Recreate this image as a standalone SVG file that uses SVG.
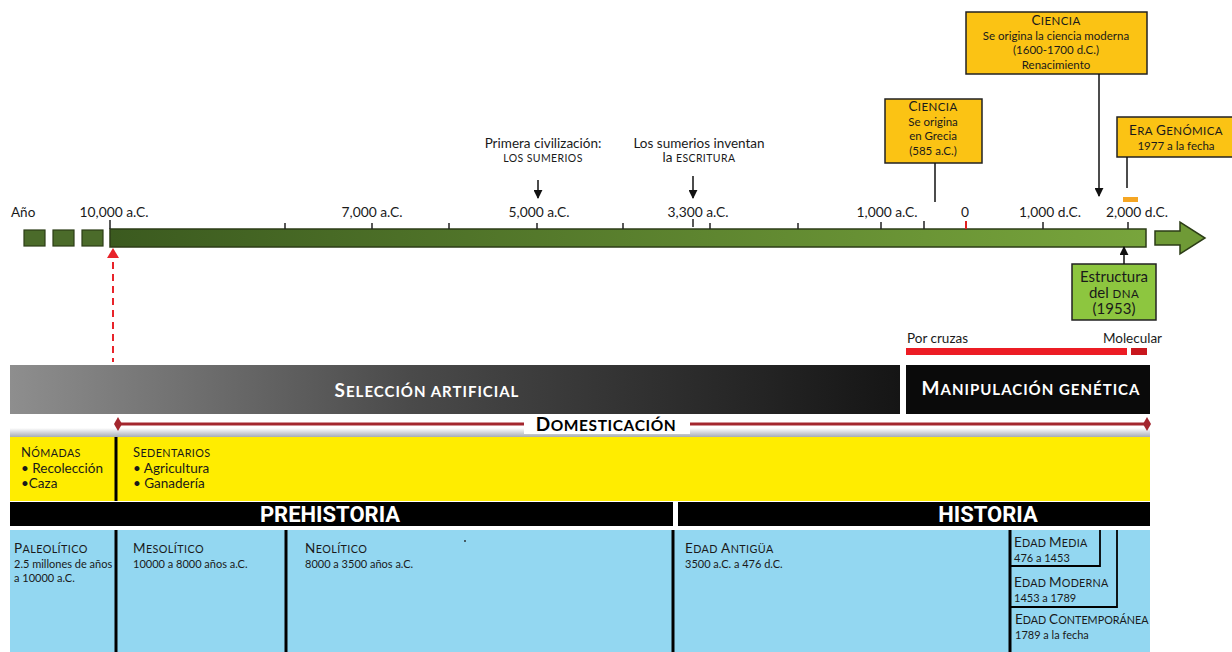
<svg xmlns="http://www.w3.org/2000/svg" width="1232" height="652" viewBox="0 0 1232 652">
  <style>
    text { font-family: Lato, "Open Sans", "DejaVu Sans", sans-serif; fill: #1a1a1a; }
    .yr { font-size: 13.8px; text-anchor: middle; }
    .note { font-size: 13.5px; text-anchor: middle; }
    .scs { font-size: 10.5px; letter-spacing: 0.4px; }
    .cap { font-size: 13.5px; }
    .box { fill: #fbc314; stroke: #222; stroke-width: 1.5; }
    .boxt { font-size: 11.5px; text-anchor: middle; }
    .tick { stroke: #222; stroke-width: 1.5; }
    .lbl { font-size: 13.5px; }
    .per { font-size: 10.8px; letter-spacing: 0.4px; }
    .pers { font-size: 11px; }
    .vline { stroke: #000; stroke-width: 3; }
    .band { font-weight: bold; font-size: 15px; letter-spacing: 1px; }
    .bcap { font-size: 19px; }
    .bar-title { font-family: Roboto, "Liberation Sans", sans-serif; font-weight: bold; font-size: 22px; fill: #fff; text-anchor: middle; }
  </style>
  <defs>
    <linearGradient id="gBar" x1="0" x2="1" y1="0" y2="0">
      <stop offset="0" stop-color="#3b5a1f"/>
      <stop offset="1" stop-color="#78a53c"/>
    </linearGradient>
    <linearGradient id="gSel" x1="0" x2="1" y1="0" y2="0">
      <stop offset="0" stop-color="#8e8e8e"/>
      <stop offset="0.45" stop-color="#4a4a4a"/>
      <stop offset="1" stop-color="#151515"/>
    </linearGradient>
    <linearGradient id="gShade" x1="0" x2="0" y1="0" y2="1">
      <stop offset="0" stop-color="#ffffff"/>
      <stop offset="1" stop-color="#9ea4ab"/>
    </linearGradient>
    <marker id="arr" viewBox="0 0 10 10" refX="9" refY="5" markerWidth="6" markerHeight="6" orient="auto-start-reverse">
      <path d="M0,0 L10,5 L0,10 z" fill="#111"/>
    </marker>
  </defs>

  <!-- timeline -->
  <g id="timeline">
    <text x="11" y="217" class="lbl">Año</text>
    <rect x="24" y="230" width="21" height="16" fill="#4b6b2a" stroke="#2c3d17" stroke-width="1.2"/>
    <rect x="53" y="230" width="21" height="16" fill="#4b6b2a" stroke="#2c3d17" stroke-width="1.2"/>
    <rect x="82" y="230" width="21" height="16" fill="#4b6b2a" stroke="#2c3d17" stroke-width="1.2"/>
    <rect x="110" y="229" width="1036" height="18" fill="url(#gBar)" stroke="#2c3d17" stroke-width="1.5"/>
    <path d="M1155,231 L1180,231 L1180,222 L1205,238 L1180,254 L1180,245 L1155,245 z" fill="#6f9a36" stroke="#2c3d17" stroke-width="1.5"/>
    <g class="tick">
      <line x1="110" y1="220" x2="110" y2="229"/>
      <line x1="285" y1="223" x2="285" y2="229"/>
      <line x1="372" y1="223" x2="372" y2="229"/>
      <line x1="449" y1="223" x2="449" y2="229"/>
      <line x1="537" y1="223" x2="537" y2="229"/>
      <line x1="623" y1="223" x2="623" y2="229"/>
      <line x1="710" y1="223" x2="710" y2="229"/>
      <line x1="798" y1="223" x2="798" y2="229"/>
      <line x1="881" y1="222" x2="881" y2="229"/>
      <line x1="924" y1="221" x2="924" y2="229"/>
      <line x1="1043" y1="222" x2="1043" y2="229"/>
      <line x1="1128" y1="222" x2="1128" y2="229"/>
    </g>
    <line x1="966" y1="221" x2="966" y2="229" stroke="#e02020" stroke-width="2"/>
    <text x="114" y="217" class="yr">10,000 a.C.</text>
    <text x="372" y="217" class="yr">7,000 a.C.</text>
    <text x="539" y="217" class="yr">5,000 a.C.</text>
    <text x="698" y="217" class="yr">3,300 a.C.</text>
    <text x="887" y="217" class="yr">1,000 a.C.</text>
    <text x="965" y="217" class="yr">0</text>
    <text x="1050" y="217" class="yr">1,000 d.C.</text>
    <text x="1137" y="217" class="yr">2,000 d.C.</text>
    <line x1="693" y1="219" x2="693" y2="227" stroke="#222" stroke-width="1.5"/>
    <rect x="1123" y="197" width="15" height="5" fill="#f5a623"/>
  </g>

  <!-- annotations above the timeline -->
  <g id="sumerios">
    <text x="543" y="148" class="note">Primera civilización:</text>
    <text x="543" y="162" class="note scs">LOS SUMERIOS</text>
  </g>
  <g id="escritura">
    <text x="699" y="148" class="note">Los sumerios inventan</text>
    <text x="699" y="162" class="note">la <tspan class="scs">ESCRITURA</tspan></text>
  </g>
  <g id="ciencia-grecia">
    <rect x="885" y="99" width="97" height="64" class="box"/>
    <text x="933" y="111" class="boxt scs"><tspan class="cap">C</tspan>IENCIA</text>
    <text x="933" y="126" class="boxt">Se origina</text>
    <text x="933" y="140" class="boxt">en Grecia</text>
    <text x="933" y="155" class="boxt">(585 a.C.)</text>
  </g>
  <g id="ciencia-moderna">
    <rect x="966" y="12" width="181" height="62" class="box"/>
    <text x="1056" y="25" class="boxt scs"><tspan class="cap">C</tspan>IENCIA</text>
    <text x="1056" y="40" class="boxt">Se origina la ciencia moderna</text>
    <text x="1056" y="54" class="boxt">(1600-1700 d.C.)</text>
    <text x="1056" y="69" class="boxt">Renacimiento</text>
  </g>
  <g id="era-genomica">
    <rect x="1117" y="117" width="120" height="40" class="box"/>
    <text x="1176" y="135" class="boxt scs"><tspan class="cap">E</tspan>RA <tspan class="cap">G</tspan>ENÓMICA</text>
    <text x="1176" y="150" class="boxt">1977 a la fecha</text>
  </g>
  <g id="dna">
    <rect x="1072" y="264" width="84" height="56" fill="#8dc63f" stroke="#222" stroke-width="1.5"/>
    <text x="1114" y="282" class="note" style="font-size:15px">Estructura</text>
    <text x="1114" y="298" class="note" style="font-size:15px">del <tspan class="scs" style="font-size:11.5px">DNA</tspan></text>
    <text x="1114" y="314" class="note" style="font-size:15px">(1953)</text>
  </g>

  <!-- connectors -->
  <g id="connectors" fill="none">
    <line x1="538" y1="180" x2="538" y2="198" stroke="#111" stroke-width="1.5" marker-end="url(#arr)"/>
    <line x1="693" y1="176" x2="693" y2="198" stroke="#111" stroke-width="1.5" marker-end="url(#arr)"/>
    <line x1="935" y1="163" x2="935" y2="202" stroke="#111" stroke-width="1.5"/>
    <line x1="1099" y1="74" x2="1099" y2="196" stroke="#111" stroke-width="1.5" marker-end="url(#arr)"/>
    <line x1="1127" y1="157" x2="1127" y2="188" stroke="#111" stroke-width="1.5"/>
    <line x1="1124" y1="264" x2="1124" y2="247" stroke="#111" stroke-width="1.5" marker-end="url(#arr)"/>
    <line x1="113" y1="262" x2="113" y2="362" stroke="#e8232a" stroke-width="2" stroke-dasharray="7,5"/>
    <path d="M113,248 L119,258 L107,258 z" fill="#e8232a"/>
  </g>

  <!-- genetic technique bars -->
  <g id="tecnicas">
    <text x="907" y="343" class="lbl">Por cruzas</text>
    <text x="1162" y="343" class="lbl" text-anchor="end">Molecular</text>
    <rect x="906" y="348" width="221" height="7" fill="#ec1c24"/>
    <rect x="1131" y="348" width="16" height="7" fill="#c8161d"/>
  </g>

  <g id="seleccion">
    <rect x="10" y="365" width="890" height="49" fill="url(#gSel)"/>
    <text x="427" y="397" class="band" text-anchor="middle" style="fill:#fff"><tspan class="bcap">S</tspan>ELECCIÓN ARTIFICIAL</text>
  </g>
  <g id="manipulacion">
    <rect x="906" y="365" width="244" height="49" fill="#0a0a0a"/>
    <text x="1031" y="395" class="band" text-anchor="middle" style="fill:#fff"><tspan class="bcap">M</tspan>ANIPULACIÓN GENÉTICA</text>
  </g>

  <!-- domestication span -->
  <g id="domesticacion">
    <rect x="10" y="428" width="1140" height="10" fill="url(#gShade)"/>
    <line x1="118" y1="424" x2="1147" y2="424" stroke="#a3262e" stroke-width="3"/>
    <path d="M114,424 L118,417 L122,424 L118,431 z" fill="#a3262e"/>
    <path d="M1143,424 L1147,417 L1151,424 L1147,431 z" fill="#a3262e"/>
    <rect x="524" y="414" width="166" height="20" fill="#fff"/>
    <text x="606" y="431" class="band" text-anchor="middle" style="font-size:15.5px;letter-spacing:0.6px;fill:#000"><tspan class="bcap">D</tspan>OMESTICACIÓN</text>
  </g>

  <!-- ways of life -->
  <g id="modos-vida">
    <rect x="10" y="437" width="1140" height="64" fill="#ffed00"/>
    <line x1="116" y1="437" x2="116" y2="501" class="vline"/>
    <text x="21" y="457" class="per"><tspan class="cap" style="font-size:13px">N</tspan>ÓMADAS</text>
    <text x="21" y="472.5" class="lbl">• Recolección</text>
    <text x="21" y="487.5" class="lbl">•Caza</text>
    <text x="133" y="457" class="per"><tspan class="cap" style="font-size:13px">S</tspan>EDENTARIOS</text>
    <text x="133" y="472.5" class="lbl">• Agricultura</text>
    <text x="133" y="487.5" class="lbl">• Ganadería</text>
  </g>

  <g id="eras">
    <rect x="10" y="502" width="663" height="24" fill="#000"/>
    <rect x="678" y="502" width="472" height="24" fill="#000"/>
    <text x="330" y="522" class="bar-title">PREHISTORIA</text>
    <text x="988" y="522" class="bar-title">HISTORIA</text>
  </g>

  <!-- periods -->
  <g id="periodos">
    <rect x="10" y="530" width="1140" height="122" fill="#93d7f1"/>
    <line x1="116" y1="530" x2="116" y2="652" class="vline"/>
    <line x1="286" y1="530" x2="286" y2="652" class="vline"/>
    <line x1="673" y1="530" x2="673" y2="652" class="vline"/>
    <line x1="1010" y1="530" x2="1010" y2="652" class="vline"/>
    <polyline points="1100,530 1100,566 1010,566" fill="none" stroke="#000" stroke-width="1.8"/>
    <polyline points="1117,530 1117,607 1010,607" fill="none" stroke="#000" stroke-width="1.8"/>
    <circle cx="465" cy="541" r="0.9" fill="#222"/>
    <text x="14" y="553" class="per"><tspan class="cap">P</tspan>ALEOLÍTICO</text>
    <text x="14" y="568" class="pers">2.5 millones de años</text>
    <text x="14" y="582" class="pers">a 10000 a.C.</text>
    <text x="133" y="553" class="per"><tspan class="cap">M</tspan>ESOLÍTICO</text>
    <text x="133" y="568" class="pers">10000 a 8000 años a.C.</text>
    <text x="305" y="553" class="per"><tspan class="cap">N</tspan>EOLÍTICO</text>
    <text x="305" y="568" class="pers">8000 a 3500 años a.C.</text>
    <text x="685" y="553" class="per"><tspan class="cap">E</tspan>DAD <tspan class="cap">A</tspan>NTIGÜA</text>
    <text x="685" y="568" class="pers">3500 a.C. a 476 d.C.</text>
    <text x="1014" y="547" class="per" style="letter-spacing:0.2px"><tspan class="cap">E</tspan>DAD <tspan class="cap">M</tspan>EDIA</text>
    <text x="1014" y="562" class="pers">476 a 1453</text>
    <text x="1014" y="587" class="per" style="letter-spacing:0.2px"><tspan class="cap">E</tspan>DAD <tspan class="cap">M</tspan>ODERNA</text>
    <text x="1014" y="602" class="pers">1453 a 1789</text>
    <text x="1015" y="624" class="per" style="letter-spacing:0px"><tspan class="cap">E</tspan>DAD <tspan class="cap">C</tspan>ONTEMPORÁNEA</text>
    <text x="1015" y="639" class="pers">1789 a la fecha</text>
  </g>
</svg>
